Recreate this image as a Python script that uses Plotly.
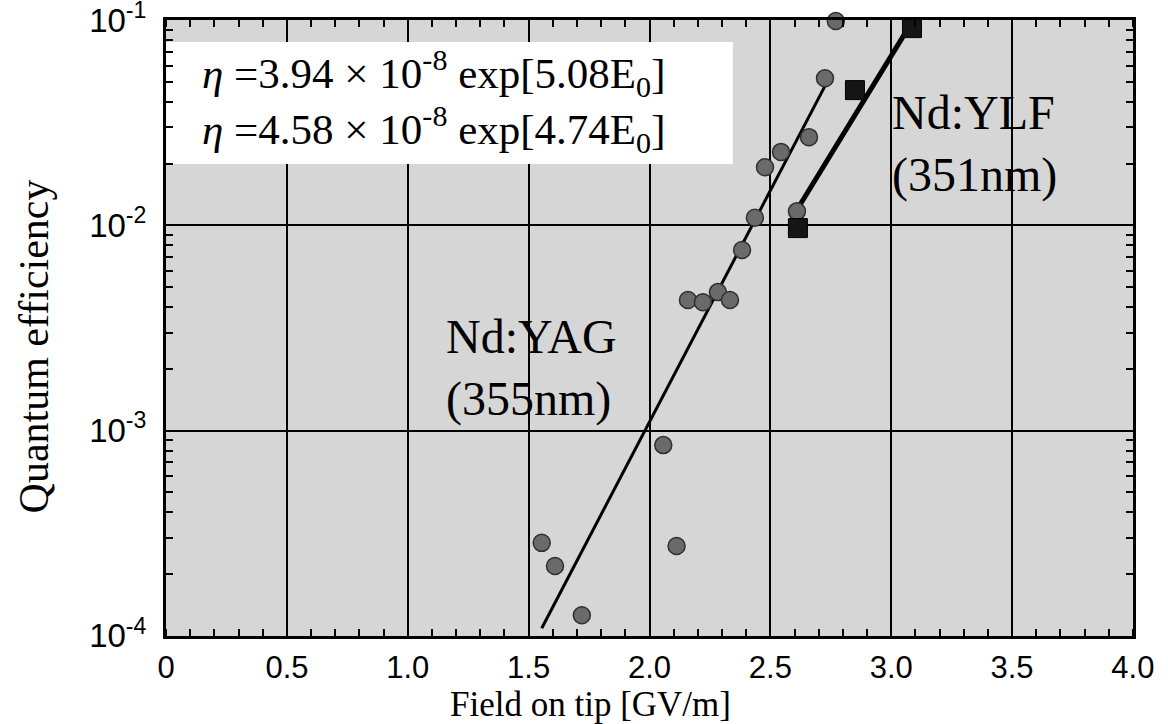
import plotly.graph_objects as go

# ---- data ----
yag_x = [1.554, 1.609, 1.720, 2.057, 2.112, 2.159, 2.221, 2.283, 2.333, 2.383,
         2.436, 2.478, 2.544, 2.610, 2.660, 2.726, 2.771]
yag_y = [2.84e-4, 2.19e-4, 1.26e-4, 8.5e-4, 2.74e-4, 4.33e-3, 4.22e-3, 4.73e-3,
         4.33e-3, 7.59e-3, 1.09e-2, 1.92e-2, 2.28e-2, 1.17e-2, 2.69e-2, 5.21e-2, 9.9e-2]

ylf_x = [2.614, 2.850, 3.086]
ylf_y = [9.7e-3, 4.56e-2, 9.14e-2]

yag_fit_x = [1.554, 2.735]
yag_fit_y = [1.09e-4, 5.0e-2]
ylf_fit_x = [2.623, 3.078]
ylf_fit_y = [1.26e-2, 9.45e-2]

x_tickvals = [0, 0.5, 1.0, 1.5, 2.0, 2.5, 3.0, 3.5, 4.0]
x_ticktext = ["0", "0.5", "1.0", "1.5", "2.0", "2.5", "3.0", "3.5", "4.0"]
y_tickvals = [1e-4, 1e-3, 1e-2, 1e-1]
y_ticktext = ["10<sup>-4</sup>", "10<sup>-3</sup>", "10<sup>-2</sup>", "10<sup>-1</sup>"]
y_minor = [m * 10.0 ** e for e in (-4, -3, -2) for m in range(2, 10)]

eq1 = "<i>η</i> =3.94 × 10<sup>-8</sup> exp[5.08E<sub>0</sub>]"
eq2 = "<i>η</i> =4.58 × 10<sup>-8</sup> exp[4.74E<sub>0</sub>]"

SERIF = "Liberation Serif, Times New Roman, serif"
SANS = "Liberation Sans, Arial, Helvetica, sans-serif"

fig = go.Figure()

fig.add_trace(go.Scatter(x=yag_fit_x, y=yag_fit_y, mode="lines",
                         line=dict(color="black", width=3), showlegend=False))
fig.add_trace(go.Scatter(x=ylf_fit_x, y=ylf_fit_y, mode="lines",
                         line=dict(color="black", width=5), showlegend=False))
fig.add_trace(go.Scatter(x=yag_x, y=yag_y, mode="markers", cliponaxis=False,
                         marker=dict(symbol="circle", size=17, color="#6a6a6a",
                                     line=dict(color="#303030", width=1.5)),
                         showlegend=False))
fig.add_trace(go.Scatter(x=ylf_x, y=ylf_y, mode="markers", cliponaxis=False,
                         marker=dict(symbol="square", size=19, color="#151515",
                                     line=dict(color="black", width=1)),
                         showlegend=False))

# white box behind the equations (covers grid)
fig.add_shape(type="rect", xref="x", yref="y", x0=0, x1=2.345, y0=1.99e-2, y1=7.82e-2,
              fillcolor="white", line=dict(width=0), layer="between")

fig.add_annotation(x=0.14, y=-1.262, xref="x", yref="y", text=eq1, showarrow=False,
                   xanchor="left", yanchor="middle", font=dict(family=SERIF, size=43, color="black"))
fig.add_annotation(x=0.14, y=-1.533, xref="x", yref="y", text=eq2, showarrow=False,
                   xanchor="left", yanchor="middle", font=dict(family=SERIF, size=43, color="black"))
fig.add_annotation(x=1.15, y=-2.695, xref="x", yref="y", text="Nd:YAG<br>(355nm)",
                   showarrow=False, xanchor="left", yanchor="middle", align="left",
                   font=dict(family=SERIF, size=48, color="black"))
fig.add_annotation(x=2.995, y=-1.605, xref="x", yref="y", text="Nd:YLF<br>(351nm)",
                   showarrow=False, xanchor="left", yanchor="middle", align="left",
                   font=dict(family=SERIF, size=48, color="black"))

# axis titles
fig.add_annotation(x=0.4385, y=-0.1105, xref="paper", yref="paper", text="Field on tip [GV/m]",
                   showarrow=False, xanchor="center", yanchor="middle",
                   font=dict(family=SERIF, size=35, color="black"))
fig.add_annotation(x=-0.1355, y=0.47, xref="paper", yref="paper", text="Quantum efficiency",
                   showarrow=False, xanchor="center", yanchor="middle", textangle=-90,
                   font=dict(family=SERIF, size=42, color="black"))

fig.update_layout(
    width=1168, height=724,
    margin=dict(l=166, r=35, t=20, b=88, autoexpand=False),
    paper_bgcolor="white",
    plot_bgcolor="#d6d6d6",
    showlegend=False,
    xaxis=dict(
        range=[-0.0005, 4.0005], tickmode="array", tickvals=x_tickvals, ticktext=x_ticktext,
        automargin=False,
        showgrid=True, gridcolor="black", gridwidth=2,
        showline=True, linecolor="black", linewidth=3, mirror="allticks",
        ticks="", zeroline=False, ticklabeloverflow="allow",
        tickfont=dict(family=SANS, size=31, color="black"),
        ticklabelstandoff=2,
        minor=dict(tickmode="linear", tick0=0, dtick=0.1, ticks="inside", ticklen=7,
                   tickwidth=2, tickcolor="black", showgrid=False),
    ),
    yaxis=dict(
        type="log", range=[-4.0005, -0.9995], tickmode="array", tickvals=y_tickvals,
        ticktext=y_ticktext, automargin=False,
        showgrid=True, gridcolor="black", gridwidth=2,
        showline=True, linecolor="black", linewidth=3, mirror="allticks",
        ticks="", zeroline=False, ticklabeloverflow="allow",
        tickfont=dict(family=SANS, size=33, color="black"),
        ticklabelstandoff=10,
        minor=dict(tickmode="array", tickvals=y_minor, ticks="inside", ticklen=7,
                   tickwidth=2, tickcolor="black", showgrid=False),
    ),
)

fig.write_html("out.html", config={"displayModeBar": False},
               post_script="document.body.style.margin='0';")
